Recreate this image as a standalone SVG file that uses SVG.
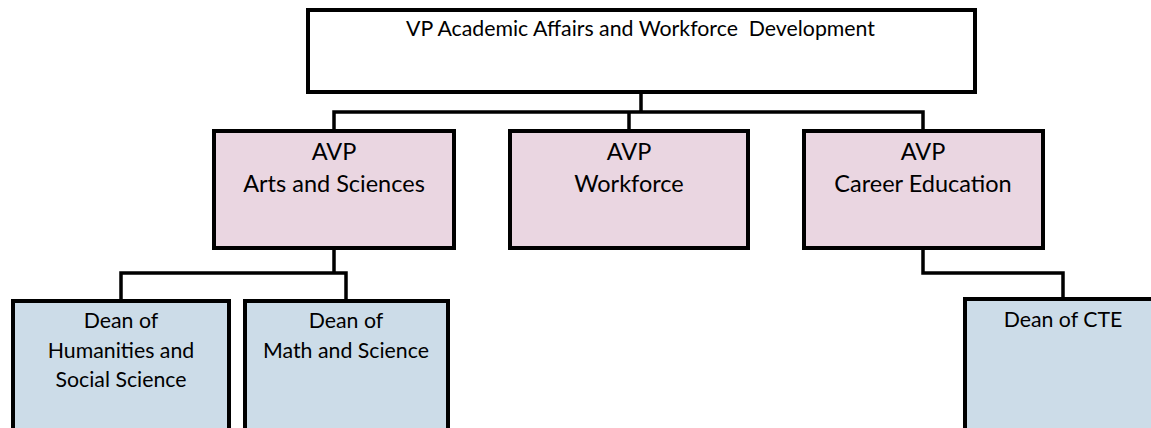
<svg xmlns="http://www.w3.org/2000/svg" width="1151" height="428" viewBox="0 0 1151 428">
<style>
.box{stroke:#000;stroke-width:4}
.top{fill:#fff}
.avp{fill:#EAD6E1}
.dean{fill:#CCDCE8}
.conn{fill:none;stroke:#000;stroke-width:3.5}
text{font-family:Lato,"Liberation Sans",sans-serif;fill:#000;text-anchor:middle;white-space:pre}
.t1{font-size:21.3px}
.t2{font-size:23.5px}
.t3{font-size:21.3px}
</style>
<rect width="1151" height="428" fill="#fff"/>
<g id="connectors">
<path class="conn" d="M641 92 V112 M334 130 V112 H923 V130 M629 112 V130"/>
<path class="conn" d="M334 248 V273 M121 301 V273 H346 V301"/>
<path class="conn" d="M923 248 V273 H1063 V299"/>
</g>
<g id="vp">
<rect class="box top" x="308" y="10" width="667" height="82"/>
<text class="t1" x="640.5" y="36" xml:space="preserve">VP Academic Affairs and Workforce  Development</text>
</g>
<g id="avp-arts">
<rect class="box avp" x="214" y="131" width="240" height="117"/>
<text class="t2" x="334" y="160">AVP</text>
<text class="t2" x="334" y="192">Arts and Sciences</text>
</g>
<g id="avp-workforce">
<rect class="box avp" x="510" y="131" width="238" height="117"/>
<text class="t2" x="629" y="160">AVP</text>
<text class="t2" x="629" y="192">Workforce</text>
</g>
<g id="avp-career">
<rect class="box avp" x="804" y="131" width="239" height="117"/>
<text class="t2" x="923" y="160">AVP</text>
<text class="t2" x="923" y="192">Career Education</text>
</g>
<g id="dean-hss">
<rect class="box dean" x="13" y="301" width="216" height="140"/>
<text class="t3" x="121" y="328">Dean of</text>
<text class="t3" x="121" y="358">Humanities and</text>
<text class="t3" x="121" y="387">Social Science</text>
</g>
<g id="dean-ms">
<rect class="box dean" x="245" y="301" width="203" height="140"/>
<text class="t3" x="346" y="328">Dean of</text>
<text class="t3" x="346" y="358">Math and Science</text>
</g>
<g id="dean-cte">
<rect class="box dean" x="965" y="299" width="200" height="140"/>
<text class="t3" x="1063" y="327">Dean of CTE</text>
</g>
</svg>
